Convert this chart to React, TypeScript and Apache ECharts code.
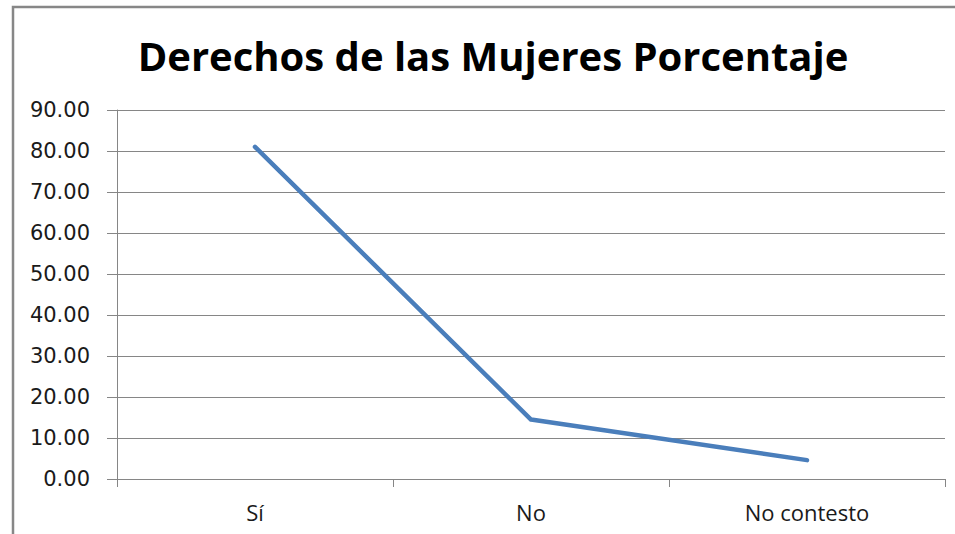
import React, { useEffect, useRef } from "react";
import * as echarts from "echarts";

const titleText = "Derechos de las Mujeres Porcentaje";
const categories = ["Sí", "No", "No contesto"];
const porcentaje = [81.0, 14.5, 4.6];
const yMin = 0;
const yMax = 90;
const yInterval = 10;

export default function App() {
  const ref = useRef<HTMLDivElement>(null);
  useEffect(() => {
    if (!ref.current) return;
    const chart = echarts.init(ref.current, undefined, { renderer: "svg" });
    chart.setOption({
      animation: false,
      backgroundColor: "#ffffff",
      title: {
        text: titleText,
        left: 488,
        top: 30,
        textAlign: "center",
        textStyle: {
          fontFamily: "Open Sans",
          fontWeight: "bold",
          fontSize: 40,
          color: "#000000",
        },
      },
      graphic: [
        {
          type: "rect",
          shape: { x: 13, y: 7, width: 1200, height: 800 },
          style: { fill: "none", stroke: "#878787", lineWidth: 2.5 },
          silent: true,
        },
      ],
      grid: { left: 117, right: 10, top: 110, bottom: 55, containLabel: false },
      xAxis: {
        type: "category",
        data: categories,
        boundaryGap: true,
        axisLine: { show: true, lineStyle: { color: "#868686", width: 1 } },
        axisTick: { show: true, length: 8, interval: 0, lineStyle: { color: "#868686" } },
        axisLabel: {
          margin: 22,
          fontFamily: "Open Sans",
          fontSize: 22,
          color: "#1a1a1a",
        },
        splitLine: { show: false },
      },
      yAxis: {
        type: "value",
        min: yMin,
        max: yMax,
        interval: yInterval,
        axisLine: { show: true, lineStyle: { color: "#868686", width: 1 } },
        axisTick: { show: true, length: 10, lineStyle: { color: "#868686" } },
        axisLabel: {
          margin: 27,
          fontFamily: "DejaVu Sans",
          fontSize: 21,
          color: "#1a1a1a",
          formatter: (v: number) => v.toFixed(2),
        },
        splitLine: { show: true, lineStyle: { color: "#868686", width: 1 } },
      },
      series: [
        {
          type: "line",
          data: porcentaje,
          showSymbol: false,
          symbol: "none",
          lineStyle: { color: "#4a7ebb", width: 4.5, cap: "round", join: "round" },
        },
      ],
    });
    return () => chart.dispose();
  }, []);
  return (
    <div
      ref={ref}
      style={{ position: "absolute", left: 0, top: 0, width: 955, height: 534 }}
    />
  );
}
